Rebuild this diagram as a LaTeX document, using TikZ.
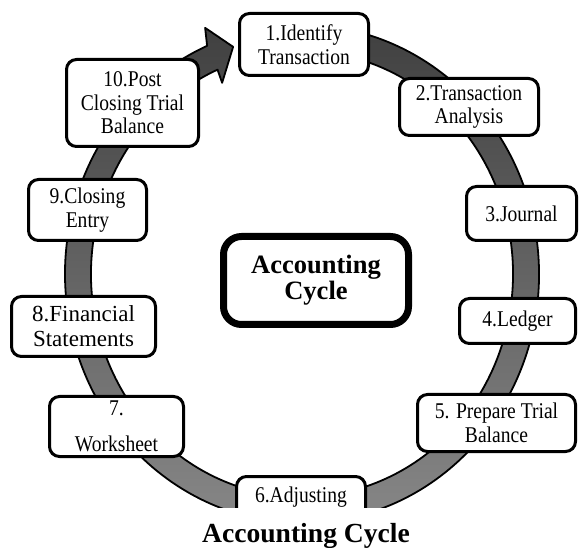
\documentclass[tikz,border=0pt]{standalone}
\usepackage{fontspec}
\setmainfont{Liberation Serif}
\newfontfamily\lblfont[FakeStretch=0.87]{Liberation Serif}
\usetikzlibrary{calc}
\begin{document}
\begin{tikzpicture}[x=1pt,y=-1pt,
  stepbox/.style={draw=black, line width=3pt, rounded corners=10pt, fill=white,
    align=center, inner sep=0pt, text=black,
    font=\lblfont\fontsize{22.5}{23.5}\selectfont},
  plainbox/.style={stepbox, font=\fontsize{23}{25}\selectfont},
  hubbox/.style={draw=black, line width=7pt, rounded corners=18pt, fill=white,
    align=center, inner sep=0pt, font=\bfseries\fontsize{26.5}{26}\selectfont},
  ring/.style={draw=black, line width=1.8pt, line join=round,
    top color=black!76, bottom color=black!46},
  caption/.style={font=\bfseries\fontsize{27.6}{30}\selectfont, inner sep=0pt}]
\useasboundingbox (0,0) rectangle (579,548);
\fill[white] (0,0) rectangle (579,548);

\begin{scope}
\clip (0,0) rectangle (579,507);
% circular arrow band, running clockwise and ending in an arrowhead
\begin{scope}[shift={(302,274)}]
\path[ring] (-100:237 and 249)
  arc[start angle=-100, end angle=246.4, x radius=237, y radius=249]
  -- ++(-2,-18) -- ++(28,19) -- ++(-11,36)
  -- (246.4:211 and 223)
  arc[start angle=246.4, end angle=-100, x radius=211, y radius=223]
  -- cycle;
\end{scope}

% the ten steps
\node[stepbox, minimum width=129, minimum height=62] (s1) at (304,44.5)
  {1.Identify\\Transaction};
\node[stepbox, minimum width=139, minimum height=57] (s2) at (469,107)
  {2.Transaction\\Analysis};
\node[stepbox, minimum width=110, minimum height=54] (s3) at (521.5,213.5)
  {3.Journal};
\node[stepbox, minimum width=116, minimum height=45] (s4) at (517.5,321)
  {4.Ledger};
\node[stepbox, minimum width=158, minimum height=57] (s5) at (496.5,423)
  {5. Prepare Trial\\Balance};
\node[stepbox, minimum width=129, minimum height=57] (s6) at (301,505) {};
\node[font=\lblfont\fontsize{22.5}{23.5}\selectfont, inner sep=0pt, anchor=base]
  (s6t) at (301,502) {6.Adjusting};
\node[stepbox, minimum width=134, minimum height=60] (s7) at (116.5,426.5)
  {7.\\[13pt]Worksheet};
\node[plainbox, minimum width=144, minimum height=60] (s8) at (83.5,326.5)
  {8.Financial\\Statements};
\node[stepbox, minimum width=118, minimum height=61] (s9) at (87.5,210)
  {9.Closing\\Entry};
\node[stepbox, minimum width=132, minimum height=87] (s10) at (132.5,103)
  {10.Post\\Closing Trial\\Balance};
\end{scope}

% centre label
\node[hubbox, minimum width=185, minimum height=88] (hub) at (316,280.5)
  {Accounting\\Cycle};

% caption
\node[caption, anchor=base] (cap) at (306,542) {Accounting Cycle};
\end{tikzpicture}
\end{document}
